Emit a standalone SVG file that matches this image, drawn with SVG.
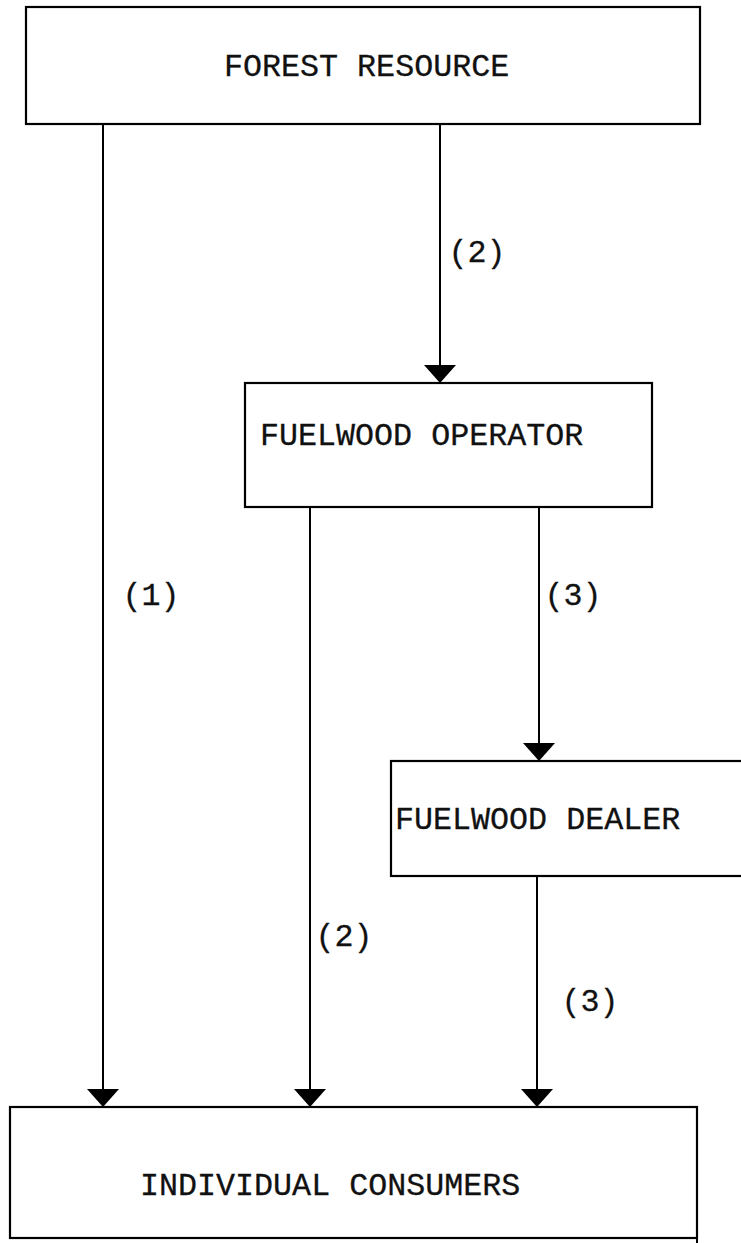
<svg xmlns="http://www.w3.org/2000/svg" width="741" height="1243" viewBox="0 0 741 1243">
<defs>
<style>
.box{fill:none;stroke:#000;stroke-width:2.2}
.ln{fill:none;stroke:#000;stroke-width:2}
.t{font-family:"Liberation Mono","Courier New",monospace;font-size:31.7px;fill:#111;stroke:#111;stroke-width:0.3}
.lb{font-family:"Liberation Mono","Courier New",monospace;font-size:31.7px;fill:#111;stroke:#111;stroke-width:0.3;text-anchor:middle}
</style>
<marker id="ah" markerUnits="userSpaceOnUse" viewBox="0 0 18 32" markerWidth="18" markerHeight="32" refX="18" refY="16" orient="auto">
<path d="M0,0 L18,16 L0,32 z" fill="#000"/>
</marker>
</defs>
<rect width="741" height="1243" fill="#fff"/>
<g id="forest">
<rect class="box" x="26" y="7" width="674" height="117"/>
<text class="t" x="224" y="76">FOREST RESOURCE</text>
</g>
<g id="operator">
<rect class="box" x="245" y="383" width="407" height="124"/>
<text class="t" x="260" y="445">FUELWOOD OPERATOR</text>
</g>
<g id="dealer">
<rect class="box" x="391" y="761" width="400" height="115"/>
<text class="t" x="395" y="829">FUELWOOD DEALER</text>
</g>
<g id="consumers">
<rect class="box" x="10" y="1107" width="687" height="131"/>
<line class="ln" x1="697" y1="1238" x2="697" y2="1243"/>
<text class="t" x="140" y="1195">INDIVIDUAL CONSUMERS</text>
</g>
<g id="connectors">
<line class="ln" x1="103" y1="124" x2="103" y2="1107" marker-end="url(#ah)"/>
<line class="ln" x1="440" y1="125" x2="440" y2="383" marker-end="url(#ah)"/>
<line class="ln" x1="310" y1="507" x2="310" y2="1107" marker-end="url(#ah)"/>
<line class="ln" x1="539" y1="508" x2="539" y2="761" marker-end="url(#ah)"/>
<line class="ln" x1="537" y1="876" x2="537" y2="1107" marker-end="url(#ah)"/>
<text class="lb" x="477" y="262">(2)</text>
<text class="lb" x="151" y="605">(1)</text>
<text class="lb" x="573" y="605">(3)</text>
<text class="lb" x="344" y="946">(2)</text>
<text class="lb" x="590" y="1011">(3)</text>
</g>
</svg>
